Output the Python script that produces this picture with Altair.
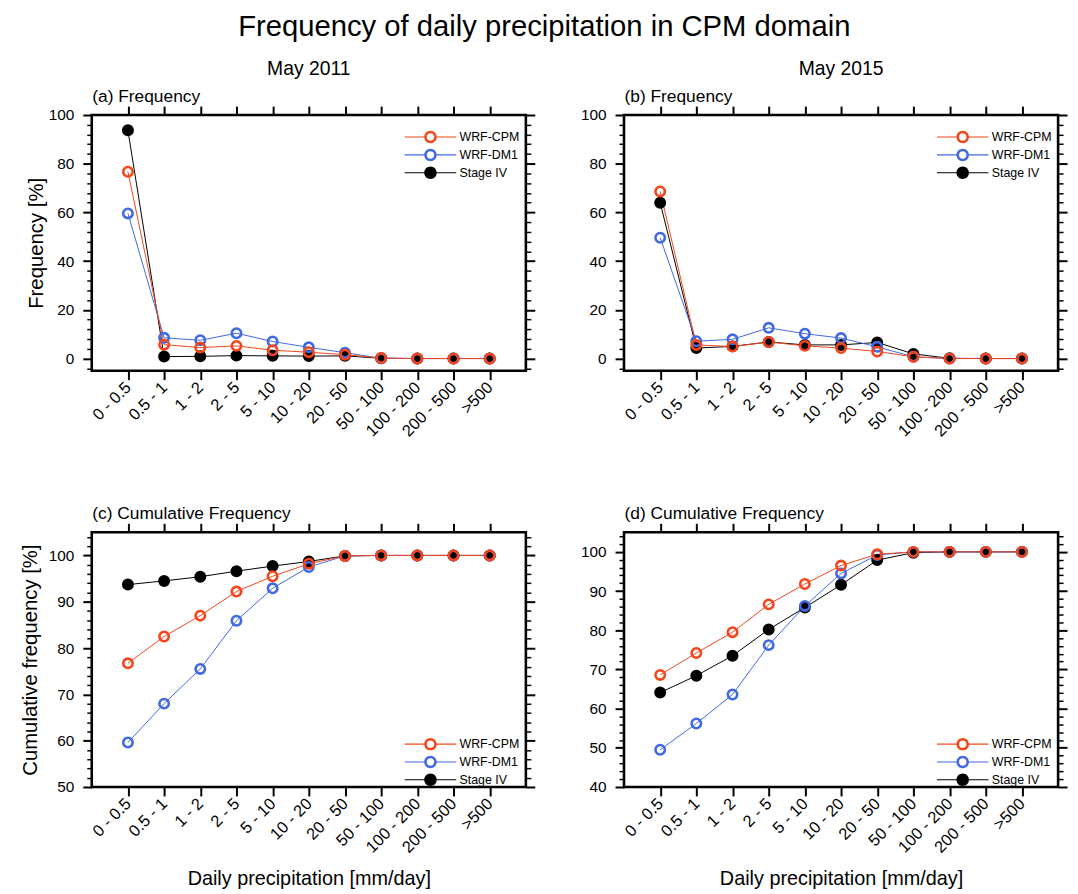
import altair as alt
import pandas as pd

# ---------------- data ----------------
BINS = ["0 - 0.5", "0.5 - 1", "1 - 2", "2 - 5", "5 - 10", "10 - 20",
        "20 - 50", "50 - 100", "100 - 200", "200 - 500", ">500"]
SERIES = ["WRF-CPM", "WRF-DM1", "Stage IV"]
COLORS = ["#F5451A", "#4169E1", "#000000"]
FILLS = ["transparent", "transparent", "#000000"]

# (a) May 2011 frequency [%]
FREQ11_CPM = [76.7, 5.7, 4.5, 5.2, 3.4, 2.6, 1.6, 0.2, 0.0, 0.0, 0.0]
FREQ11_DM1 = [59.6, 8.5, 7.5, 10.4, 7.0, 4.6, 2.4, 0.1, 0.0, 0.0, 0.0]
FREQ11_ST4 = [93.7, 0.8, 0.9, 1.2, 1.1, 1.0, 1.1, 0.1, 0.0, 0.0, 0.0]
# (b) May 2015 frequency [%]
FREQ15_CPM = [68.6, 5.6, 4.9, 6.8, 5.2, 4.3, 2.9, 0.7, 0.0, 0.0, 0.0]
FREQ15_DM1 = [49.6, 7.1, 7.9, 12.6, 10.2, 8.4, 4.8, 0.7, 0.0, 0.0, 0.0]
FREQ15_ST4 = [64.0, 4.3, 5.0, 6.8, 5.6, 5.6, 6.6, 1.9, 0.1, 0.0, 0.0]
# (c) May 2011 cumulative frequency [%]
CUM11_CPM = [76.7, 82.5, 87.0, 92.2, 95.5, 98.2, 99.9, 100, 100, 100, 100]
CUM11_DM1 = [59.6, 68.0, 75.5, 85.9, 92.9, 97.5, 99.9, 100, 100, 100, 100]
CUM11_ST4 = [93.7, 94.5, 95.4, 96.6, 97.7, 98.7, 99.9, 100, 100, 100, 100]
# (d) May 2015 cumulative frequency [%]
CUM15_CPM = [68.6, 74.2, 79.5, 86.6, 91.8, 96.5, 99.4, 100, 100, 100, 100]
CUM15_DM1 = [49.5, 56.2, 63.6, 76.2, 86.2, 94.5, 99.2, 100, 100, 100, 100]
CUM15_ST4 = [64.1, 68.4, 73.5, 80.2, 85.8, 91.6, 97.9, 99.8, 100, 100, 100]

FONT = "Liberation Sans"

# legend symbols (unit paths): ring / disc with a thin line through them
_SEGS = ("M-4.33,-0.09L-0.9,-0.09L-0.9,0.09L-4.33,0.09Z"
         "M0.9,-0.09L4.33,-0.09L4.33,0.09L0.9,0.09Z")
_OUTER = "M1.05,0A1.05,1.05,0,1,1,-1.05,0A1.05,1.05,0,1,1,1.05,0Z"
_INNER = "M0.63,0A0.63,0.63,0,1,0,-0.63,0A0.63,0.63,0,1,0,0.63,0Z"
LEGEND_SHAPES = [_OUTER + _INNER + _SEGS, _OUTER + _INNER + _SEGS, _OUTER + _SEGS]


def long_df(cpm, dm1, st4):
    rows = []
    for name, vals in [("Stage IV", st4), ("WRF-DM1", dm1), ("WRF-CPM", cpm)]:
        for i, (b, v) in enumerate(zip(BINS, vals)):
            rows.append({"bin": b, "i": i, "series": name, "value": v})
    return pd.DataFrame(rows)


def panel(df, width, height, ydom, ymajor, yminor, toptitle, legx, legy,
          ytitle=None, ytitlepad=2, xtitle=None, title=None):
    xsc = alt.Scale(type="point", domain=BINS, padding=1)
    ysc = alt.Scale(domain=ydom, nice=False, zero=False)
    base = alt.Chart(df)
    # marks use a reversed-domain scale (same colours) so they never merge
    # with the visible legend
    rev = SERIES[::-1]
    stroke_sc = alt.Scale(domain=rev, range=COLORS[::-1])
    fill_sc = alt.Scale(domain=rev, range=FILLS[::-1])

    lines = base.mark_line(strokeWidth=1).encode(
        x=alt.X("bin:O", scale=xsc, axis=alt.Axis(
            orient="bottom", labelAngle=-45, labelAlign="right",
            labelBaseline="middle", labelPadding=5, labelFontSize=16.5,
            tickSize=9, title=xtitle, titlePadding=13, titleFontSize=20)),
        y=alt.Y("value:Q", scale=ysc, axis=alt.Axis(
            orient="left", values=ymajor, tickSize=9, labelPadding=9,
            title=ytitle, titlePadding=ytitlepad, titleFontSize=20.5)),
        stroke=alt.Stroke("series:N", scale=stroke_sc, legend=None),
        order=alt.Order("i:Q"),
    )
    pts = base.mark_point(shape="circle", size=90, strokeWidth=2.6, opacity=1).encode(
        x=alt.X("bin:O", scale=xsc, axis=alt.Axis(
            orient="top", labels=False, tickSize=9, labelPadding=0,
            title=toptitle, titleAnchor="start", titleAlign="left",
            titlePadding=0, titleFontSize=17.5)),
        y=alt.Y("value:Q", scale=ysc, axis=alt.Axis(
            orient="right", values=ymajor, labels=False, tickSize=9, title=None)),
        stroke=alt.Stroke("series:N", scale=stroke_sc, legend=None),
        fill=alt.Fill("series:N", scale=fill_sc, legend=None),
    )
    minor_l = base.mark_point(opacity=0).encode(
        x=alt.X("bin:O", scale=xsc, axis=None),
        y=alt.Y("value:Q", scale=ysc, axis=alt.Axis(
            orient="left", values=yminor, labels=False, tickSize=5,
            tickWidth=1.5, title=None)),
    )
    leg = alt.Legend(
        orient="none", legendX=legx, legendY=legy, title=None, padding=0,
        symbolSize=144, symbolStrokeWidth=0, symbolOpacity=1,
        labelFont=FONT, labelFontSize=12.5, labelColor="black",
        labelOffset=23, rowPadding=4,
    )
    minor_r = base.mark_point(opacity=0, filled=True, size=144).encode(
        x=alt.X("bin:O", scale=xsc, axis=None),
        y=alt.Y("value:Q", scale=ysc, axis=alt.Axis(
            orient="right", values=yminor, labels=False, tickSize=5,
            tickWidth=1.5, title=None)),
        color=alt.Color("series:N", scale=alt.Scale(domain=SERIES, range=COLORS),
                        legend=leg),
        shape=alt.Shape("series:N",
                        scale=alt.Scale(domain=SERIES, range=LEGEND_SHAPES),
                        legend=leg),
    )
    props = dict(width=width, height=height)
    if title is not None:
        props["title"] = alt.TitleParams(title, anchor="middle", fontSize=19.5,
                                         fontWeight="normal", font=FONT,
                                         offset=8, frame="group")
    return (alt.layer(lines, pts, minor_l, minor_r)
            .resolve_axis(x="independent", y="independent")
            .properties(**props))


FREQ_MAJOR = [0, 20, 40, 60, 80, 100]
FREQ_MINOR = [v for v in range(-4, 100, 4) if v % 20 != 0]
CUMC_MAJOR = [50, 60, 70, 80, 90, 100]
CUMC_MINOR = [v for v in range(52, 105, 2) if v % 10 != 0]
CUMD_MAJOR = [40, 50, 60, 70, 80, 90, 100]
CUMD_MINOR = [v for v in range(42, 105, 2) if v % 10 != 0]

pa = panel(long_df(FREQ11_CPM, FREQ11_DM1, FREQ11_ST4), 438, 258, [-5, 100],
           FREQ_MAJOR, FREQ_MINOR, "(a) Frequency", 335.5, 16,
           ytitle="Frequency [%]", ytitlepad=2, title="May 2011")
pb = panel(long_df(FREQ15_CPM, FREQ15_DM1, FREQ15_ST4), 438, 258, [-5, 100],
           FREQ_MAJOR, FREQ_MINOR, "(b) Frequency", 335.5, 16,
           title="May 2015")
pc = panel(long_df(CUM11_CPM, CUM11_DM1, CUM11_ST4), 438, 257, [50, 105],
           CUMC_MAJOR, CUMC_MINOR, "(c) Cumulative Frequency", 335.5, 207.5,
           ytitle="Cumulative frequency [%]", ytitlepad=8,
           xtitle="Daily precipitation [mm/day]")
pd_ = panel(long_df(CUM15_CPM, CUM15_DM1, CUM15_ST4), 438, 257, [40, 105],
            CUMD_MAJOR, CUMD_MINOR, "(d) Cumulative Frequency", 335.5, 207.5,
            xtitle="Daily precipitation [mm/day]")

chart = (alt.concat(pa, pb, pc, pd_, columns=2, bounds="flush",
                    spacing={"row": 163, "column": 99})
         .resolve_scale(color="independent", shape="independent",
                        stroke="independent", fill="independent")
         .resolve_legend(color="independent", shape="independent")
         .properties(
             title=alt.TitleParams("Frequency of daily precipitation in CPM domain",
                                   anchor="middle", fontSize=29.5, fontWeight="normal",
                                   font=FONT, color="black", offset=15),
             padding={"left": 10.5, "top": 0, "right": 0, "bottom": 0},
         )
         .configure(font=FONT)
         .configure_axis(grid=False, domain=False, tickColor="black", tickWidth=2,
                         labelFont=FONT, labelFontSize=15.5, labelColor="black",
                         titleFont=FONT, titleFontWeight="normal", titleColor="black")
         .configure_view(stroke="black", strokeWidth=2.6)
         .configure_title(color="black"))

chart.save("out.html", embed_options={"renderer": "svg", "actions": False})
